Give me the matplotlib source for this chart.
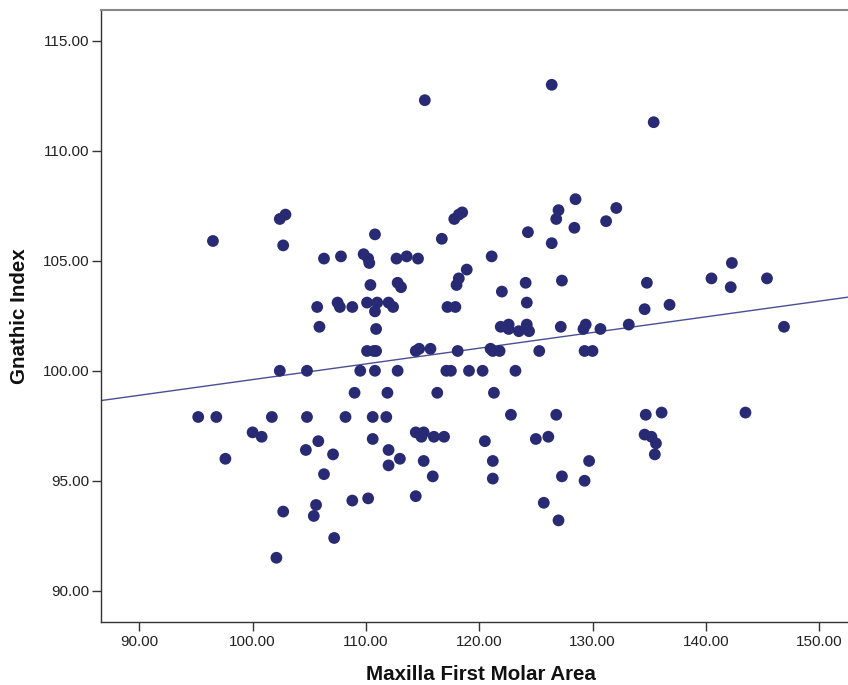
import matplotlib
matplotlib.use("Agg")
import matplotlib.pyplot as plt
import numpy as np

# -------------------------------------------------------------------------------------------------
# Data (Maxilla First Molar Area vs Gnathic Index)
# -------------------------------------------------------------------------------------------------
molar_area = [
    96.5, 102.4, 102.9, 102.7, 106.3, 107.8, 105.7, 107.5, 107.7,
    115.2, 126.4, 128.5, 127.0, 126.8, 128.4, 124.3, 126.4, 121.1, 118.5, 118.2,
    117.8, 116.7, 110.8, 109.8, 110.2, 110.3, 112.7, 113.6, 114.6, 118.9,
    118.2, 118.0, 122.0, 124.1, 127.3, 124.2, 110.4, 112.8, 113.1, 108.8,
    110.1, 111.0, 110.8, 112.0, 112.4, 117.2, 117.9,
    135.4, 132.1, 131.2, 142.3, 140.5, 142.2, 145.4, 134.8, 134.6, 136.8,
    105.9, 102.4, 104.8, 95.2, 96.8, 101.7, 104.8, 108.2, 100.0, 100.8,
    97.6, 104.7, 105.8, 107.1, 106.3, 105.6, 105.4, 102.7, 107.2, 102.1,
    110.9, 110.1, 110.7, 110.9, 114.4, 114.7, 115.7, 118.1, 121.0, 121.2,
    121.8, 121.9, 122.6, 122.6, 123.5, 124.2, 124.4, 127.2, 129.2, 129.4,
    125.3, 129.3, 109.5, 110.8, 112.8, 117.1, 117.5, 119.1, 120.3, 123.2,
    109.0, 111.9, 116.3, 121.3, 110.6, 111.8, 122.8, 126.8, 114.4, 115.1,
    114.9, 116.0, 116.9, 110.6, 120.5, 125.0, 126.1, 112.0, 113.0, 112.0,
    115.1, 121.2, 115.9, 121.2, 127.3, 129.3, 108.8, 110.2, 114.4, 125.7,
    127.0,
    130.7, 133.2, 146.9, 130.0, 134.7, 136.1, 143.5, 134.6, 135.2, 135.6,
    135.5, 129.7,
]
gnathic_index = [
    105.9, 106.9, 107.1, 105.7, 105.1, 105.2, 102.9, 103.1, 102.9,
    112.3, 113.0, 107.8, 107.3, 106.9, 106.5, 106.3, 105.8, 105.2, 107.2, 107.1,
    106.9, 106.0, 106.2, 105.3, 105.1, 104.9, 105.1, 105.2, 105.1, 104.6,
    104.2, 103.9, 103.6, 104.0, 104.1, 103.1, 103.9, 104.0, 103.8, 102.9,
    103.1, 103.1, 102.7, 103.1, 102.9, 102.9, 102.9,
    111.3, 107.4, 106.8, 104.9, 104.2, 103.8, 104.2, 104.0, 102.8, 103.0,
    102.0, 100.0, 100.0, 97.9, 97.9, 97.9, 97.9, 97.9, 97.2, 97.0,
    96.0, 96.4, 96.8, 96.2, 95.3, 93.9, 93.4, 93.6, 92.4, 91.5,
    101.9, 100.9, 100.9, 100.9, 100.9, 101.0, 101.0, 100.9, 101.0, 100.9,
    100.9, 102.0, 102.1, 101.9, 101.8, 102.1, 101.8, 102.0, 101.9, 102.1,
    100.9, 100.9, 100.0, 100.0, 100.0, 100.0, 100.0, 100.0, 100.0, 100.0,
    99.0, 99.0, 99.0, 99.0, 97.9, 97.9, 98.0, 98.0, 97.2, 97.2,
    97.0, 97.0, 97.0, 96.9, 96.8, 96.9, 97.0, 96.4, 96.0, 95.7,
    95.9, 95.9, 95.2, 95.1, 95.2, 95.0, 94.1, 94.2, 94.3, 94.0,
    93.2,
    101.9, 102.1, 102.0, 100.9, 98.0, 98.1, 98.1, 97.1, 97.0, 96.7,
    96.2, 95.9,
]

x_ticks = [90, 100, 110, 120, 130, 140, 150]
y_ticks = [90, 95, 100, 105, 110, 115]

dot_color = "#282A74"
line_color = "#4A4E96"

plt.rcParams["font.family"] = ["Liberation Sans", "DejaVu Sans"]

fig = plt.figure(figsize=(8.48, 6.85), dpi=100)
ax = fig.add_axes([101/848, 63/685, 747/848, 612/685])

ax.scatter(molar_area, gnathic_index, s=72, color=dot_color, edgecolors="none", zorder=3)

# linear fit line across the whole plotting range
xlim = (86.62, 152.55)
slope, intercept = np.polyfit(molar_area, gnathic_index, 1)
xs = np.array(xlim)
ax.plot(xs, intercept + slope*xs, color=line_color, lw=1.0, zorder=2)

ax.set_xlim(*xlim)
ax.set_ylim(88.58, 116.4)
ax.set_xticks(x_ticks)
ax.set_yticks(y_ticks)
ax.set_xticklabels(["{:.2f}".format(v) for v in x_ticks])
ax.set_yticklabels(["{:.2f}".format(v) for v in y_ticks])
ax.tick_params(direction="out", length=6.5, width=1.0, color="#333333",
               labelsize=11, labelcolor="#222222")
ax.tick_params(axis="x", pad=3)
ax.tick_params(axis="y", pad=2)

for side in ["left", "bottom"]:
    ax.spines[side].set_color("#333333")
    ax.spines[side].set_linewidth(1.0)
ax.spines["top"].set_color("#888888")
ax.spines["top"].set_linewidth(1.5)
ax.spines["right"].set_visible(False)

fig.text(481/848, 1 - 675/685, "Maxilla First Molar Area", ha="center", va="center",
         fontsize=14.8, fontweight="bold", color="#111111")
fig.text(20/848, 1 - 316/685, "Gnathic Index", ha="center", va="center", rotation=90,
         fontsize=14.8, fontweight="bold", color="#111111")

fig.savefig("out.png", dpi=100)
